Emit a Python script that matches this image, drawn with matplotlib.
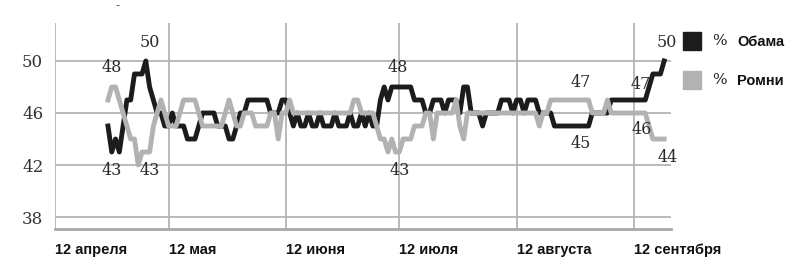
import matplotlib
matplotlib.use("Agg")
import matplotlib.pyplot as plt
import pandas as pd
from matplotlib.patches import Rectangle

# daily tracking, starting 26 April 2012
start_date = "2012-04-26"
obama = [45, 43, 44, 43, 45, 47, 47, 49, 49, 49,
         50, 48, 47, 46, 46, 45, 45, 46, 45, 45,
         45, 44, 44, 44, 45, 46, 46, 46, 46, 45,
         45, 45, 44, 44, 45, 46, 46, 47, 47, 47,
         47, 47, 47, 46, 46, 46, 47, 47, 46, 45,
         46, 45, 45, 46, 45, 45, 46, 45, 45, 45,
         46, 45, 45, 45, 46, 45, 45, 46, 45, 46,
         45, 45, 47, 48, 47, 48, 48, 48, 48, 48,
         48, 47, 47, 47, 46, 46, 47, 47, 47, 46,
         47, 47, 47, 46, 48, 48, 46, 46, 46, 45,
         46, 46, 46, 46, 47, 47, 47, 46, 47, 47,
         46, 47, 47, 47, 46, 46, 46, 46, 45, 45,
         45, 45, 45, 45, 45, 45, 45, 45, 46, 46,
         46, 46, 46, 47, 47, 47, 47, 47, 47, 47,
         47, 47, 47, 48, 49, 49, 49, 50]
romney = [47, 48, 48, 47, 46, 45, 44, 44, 42, 43,
          43, 43, 45, 46, 47, 46, 45, 45, 45, 46,
          47, 47, 47, 47, 46, 45, 45, 45, 45, 45,
          45, 46, 47, 46, 45, 45, 46, 46, 46, 45,
          45, 45, 45, 46, 46, 44, 46, 46, 47, 46,
          46, 46, 46, 46, 46, 46, 46, 46, 46, 46,
          46, 46, 46, 46, 46, 47, 47, 46, 46, 46,
          46, 45, 44, 44, 43, 44, 43, 43, 44, 44,
          44, 45, 45, 45, 46, 46, 44, 46, 46, 46,
          46, 46, 47, 45, 44, 46, 46, 46, 46, 46,
          46, 46, 46, 46, 46, 46, 46, 46, 46, 46,
          46, 46, 46, 46, 45, 46, 46, 47, 47, 47,
          47, 47, 47, 47, 47, 47, 47, 47, 46, 46,
          46, 46, 47, 46, 46, 46, 46, 46, 46, 46,
          46, 46, 46, 45, 44, 44, 44, 44]

tick_dates = ["2012-04-12", "2012-05-12", "2012-06-12",
              "2012-07-12", "2012-08-12", "2012-09-12"]
tick_labels = ["12 апреля", "12 мая", "12 июня",
               "12 июля", "12 августа", "12 сентября"]
y_ticks = [38, 42, 46, 50]

# value callouts: series, date, offset in pixels (x, y)
callouts = [("romney", "2012-04-27", (0, 19)),
            ("obama", "2012-05-06", (4, 18)),
            ("obama", "2012-04-27", (0, -18)),
            ("romney", "2012-05-07", (0, -18)),
            ("obama", "2012-07-11", (2, 19)),
            ("romney", "2012-07-12", (0, -18)),
            ("romney", "2012-08-29", (0, 17)),
            ("obama", "2012-08-29", (0, -17)),
            ("obama", "2012-09-14", (-1, 15)),
            ("romney", "2012-09-14", (0, -17)),
            ("obama", "2012-09-20", (3, 18)),
            ("romney", "2012-09-20", (3, -18))]

BLACK = "#1c1c1c"
GRAY = "#b2b2b2"
GRID = "#b4b4b4"
serif = "DejaVu Serif"

df = pd.DataFrame({"obama": obama, "romney": romney},
                  index=pd.date_range(start_date, periods=len(obama), freq="D"))

W, H = 803, 273
fig = plt.figure(figsize=(W / 100, H / 100), dpi=100)
ax = fig.add_axes([55 / W, 1 - 229 / H, (671 - 55) / W, (229 - 23) / H])

ax.plot(df.index, df["obama"], color=BLACK, lw=3.5, solid_joinstyle="round", zorder=3)
ax.plot(df.index, df["romney"], color=GRAY, lw=3.5, solid_joinstyle="round", zorder=4)

x0 = pd.Timestamp("2012-04-12")
ax.set_xlim(x0, x0 + pd.Timedelta(days=162.8))
ax.set_ylim(37.08, 52.92)

ax.set_yticks(y_ticks)
ax.set_yticklabels([str(v) for v in y_ticks], fontfamily=serif, fontsize=12, color="#333333")
ax.set_xticks(pd.to_datetime(tick_dates))
ax.set_xticklabels(tick_labels, fontfamily="Liberation Sans", fontweight="bold",
                   fontsize=10.5, color="#111111", ha="left")
ax.tick_params(axis="y", length=0, pad=8.5)
ax.tick_params(axis="x", length=0, pad=10)

ax.grid(True, color=GRID, lw=1.3)
ax.set_axisbelow(True)
for s in ["top", "right", "left"]:
    ax.spines[s].set_visible(False)
ax.spines["bottom"].set_color("#a8a8a8")
ax.spines["bottom"].set_linewidth(2.0)

for name, day, (dx, dy) in callouts:
    val = df.loc[day, name]
    ax.annotate(str(val), xy=(pd.Timestamp(day), val), xytext=(dx * 0.72, dy * 0.72),
                textcoords="offset points", ha="center", va="center",
                fontfamily=serif, fontsize=11.5, color="#2a2a2a", zorder=5)

# legend drawn by hand
for (label, color, yc) in [("Обама", BLACK, 41), ("Ромни", GRAY, 80)]:
    fig.patches.append(Rectangle((683 / W, 1 - (yc + 9) / H), 18 / W, 18 / H,
                                 transform=fig.transFigure, color=color))
    fig.text(712 / W, 1 - yc / H, "%", fontfamily=serif, fontsize=11,
             color="#222222", va="center", ha="left")
    fig.text(737 / W, 1 - (yc + 1) / H, label, fontfamily="Liberation Sans",
             fontweight="bold", fontsize=10.5, color="#111111", va="center", ha="left")

fig.text(117 / W, 1 - 5 / H, "-", fontsize=8, color="#444444", ha="center", va="center")

fig.savefig("out.png", dpi=100)
